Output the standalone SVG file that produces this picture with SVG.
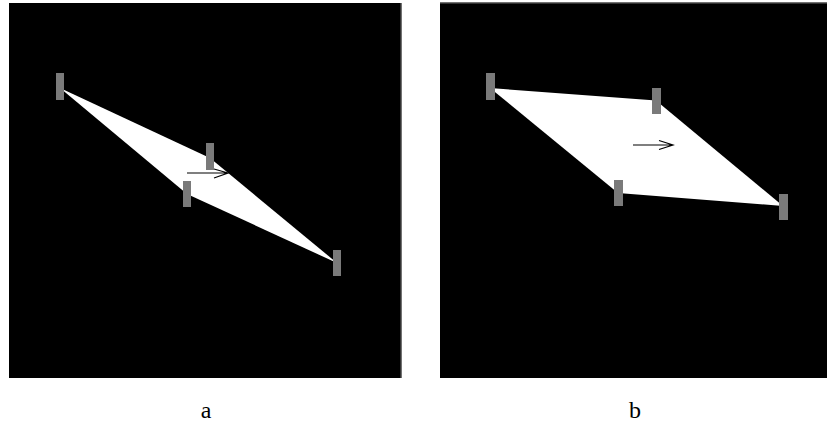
<svg xmlns="http://www.w3.org/2000/svg" width="827" height="423" viewBox="0 0 827 423">
<style>
.panel{fill:#000}
.shape{fill:#fff;filter:url(#soft)}
.tick{fill:#7a7a7a;filter:url(#soft)}
.arrow{stroke:#000;stroke-width:1.2;fill:none}
.lbl{font-family:"Liberation Serif","DejaVu Serif",serif;font-size:24px;fill:#000;text-anchor:middle}
</style>
<defs>
<filter id="soft" x="-10%" y="-10%" width="120%" height="120%"><feGaussianBlur stdDeviation="0.7"/></filter>
</defs>
<rect width="827" height="423" fill="#fff"/>
<g id="panel-a">
<rect class="panel" x="9" y="3" width="392.5" height="375"/>
<line x1="401" y1="3" x2="401" y2="378" stroke="#666" stroke-width="1"/>
<polygon class="shape" points="60,88 210,158 337,263 187,194"/>
<rect class="tick" x="56" y="73" width="8" height="27"/>
<rect class="tick" x="206" y="143" width="8" height="27"/>
<rect class="tick" x="183" y="181" width="8" height="26"/>
<rect class="tick" x="333" y="250" width="8" height="26"/>
</g>
<g id="panel-b">
<rect class="panel" x="440" y="2.5" width="387" height="375.5"/>
<line x1="440" y1="3" x2="827" y2="3" stroke="#666" stroke-width="1"/>
<polygon class="shape" points="490,88 656,100.5 783,206 618,193"/>
<rect class="tick" x="486" y="73" width="9" height="27"/>
<rect class="tick" x="652" y="88" width="9" height="26"/>
<rect class="tick" x="614" y="180" width="9" height="26"/>
<rect class="tick" x="779" y="194" width="9" height="26"/>
</g>
<g id="connectors">
<path class="arrow" d="M187,173 H228 M214,169 L228,173 L214,178"/>
<path class="arrow" d="M633,145 H673 M659,140.5 L673,145 L659,149.5"/>
</g>
<g id="labels">
<text class="lbl" x="206" y="418">a</text>
<text class="lbl" x="635" y="418">b</text>
</g>
</svg>
